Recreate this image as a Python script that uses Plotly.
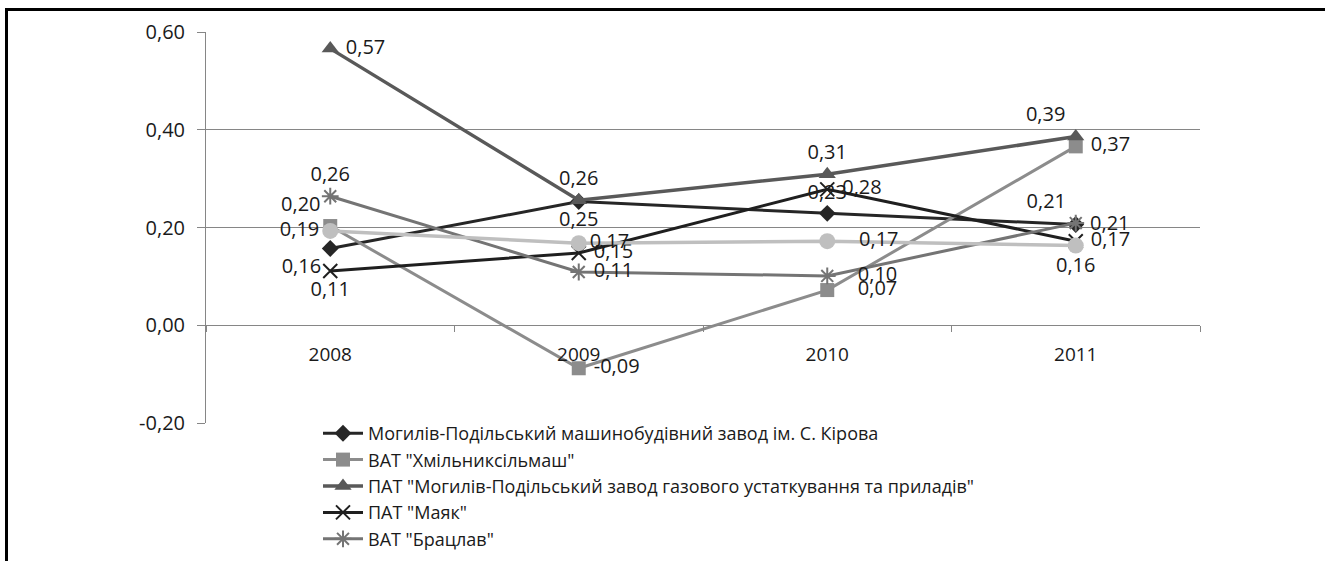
import plotly.graph_objects as go

years = ["2008", "2009", "2010", "2011"]

names = [
    "Могилів-Подільський машинобудівний завод ім. С. Кірова",
    "ВАТ \"Хмільниксільмаш\"",
    "ПАТ \"Могилів-Подільський завод газового устаткування та приладів\"",
    "ПАТ \"Маяк\"",
    "ВАТ \"Брацлав\"",
    "Серія 6",
]

kirova = [0.157, 0.253, 0.229, 0.206]
khmilnyk = [0.203, -0.088, 0.072, 0.366]
gaz = [0.566, 0.256, 0.309, 0.386]
mayak = [0.111, 0.148, 0.278, 0.172]
bratslav = [0.264, 0.109, 0.101, 0.209]
series6 = [0.193, 0.168, 0.172, 0.163]

y_ticks = [-0.2, 0.0, 0.2, 0.4, 0.6]
y_ticktext = [f"{v:.2f}".replace(".", ",") for v in y_ticks]

W, H = 1325, 561
L, R, T, B = 206, 125, 32, 138
PW, PH = W - L - R, H - T - B

styles = [
    dict(color="#262626", width=3, symbol="diamond", size=13, mline=0,
         pos=["bottom left", "bottom center", "top center", "middle right"],
         pad=[0, 0, 0, 1]),
    dict(color="#8c8c8c", width=3, symbol="square", size=14, mline=0,
         pos=["top left", "middle right", "middle right", "middle right"],
         pad=[0, 1, 4, 1]),
    dict(color="#595959", width=3.5, symbol="triangle-up", size=15, mline=0,
         pos=["middle right", "top center", "top center", "top left"],
         pad=[1, 0, 0, 0]),
    dict(color="#1f1f1f", width=3, symbol="x-thin-open", size=14, mline=2,
         pos=["bottom center", "middle right", "middle right", "middle right"],
         pad=[0, 1, 1, 1]),
    dict(color="#747474", width=3, symbol="asterisk-open", size=14, mline=2,
         pos=["top center", "middle right", "middle right", "top left"],
         pad=[0, 1, 4, 0]),
    dict(color="#bfbfbf", width=3.5, symbol="circle", size=16, mline=0,
         pos=["middle left", "middle right", "middle right", "bottom center"],
         pad=[0, 0, 4, 0]),
]

data = [kirova, khmilnyk, gaz, mayak, bratslav, series6]

fig = go.Figure()
for i, (nm, vals, st) in enumerate(zip(names, data, styles)):
    labels = [" " * p + f"{v:.2f}".replace(".", ",") for v, p in zip(vals, st["pad"])]
    fig.add_trace(go.Scatter(
        x=years, y=vals, name=nm,
        mode="lines+markers+text",
        line=dict(color=st["color"], width=st["width"]),
        marker=dict(symbol=st["symbol"], size=st["size"], color=st["color"],
                    line=dict(color=st["color"], width=st["mline"])),
        text=labels,
        textposition=st["pos"],
        textfont=dict(family="Open Sans", size=20, color="#1a1a1a"),
        cliponaxis=False,
        showlegend=(i < 5),
        legendgroup=f"g{i}",
    ))

def px(xp):
    return (xp - L) / PW

def py(yp):
    return (H - B - yp) / PH

fig.update_layout(
    width=W, height=H,
    margin=dict(l=L, r=R, t=T, b=B, autoexpand=False),
    paper_bgcolor="white", plot_bgcolor="white",
    font=dict(family="Open Sans", size=20, color="#1a1a1a"),
    xaxis=dict(
        type="category", range=[-0.5, 3.5],
        anchor="free", position=0.25,
        showline=True, linecolor="#868686", linewidth=1,
        showgrid=False, tickson="boundaries",
        ticks="outside", ticklen=6, tickcolor="#868686",
        ticklabelstandoff=12,
        tickfont=dict(family="Open Sans", size=19, color="#1a1a1a"),
    ),
    yaxis=dict(
        range=[-0.2, 0.6], tickvals=y_ticks, ticktext=y_ticktext,
        showline=True, linecolor="#868686", linewidth=1,
        showgrid=True, gridcolor="#868686", gridwidth=1,
        zeroline=False,
        ticks="outside", ticklen=8, tickcolor="#868686",
        ticklabelstandoff=8,
        tickfont=dict(family="Open Sans", size=20, color="#1a1a1a"),
    ),
    legend=dict(
        x=px(318), y=py(415), xanchor="left", yanchor="top",
        bgcolor="rgba(255,255,255,0)",
        font=dict(family="Open Sans", size=18, color="#1a1a1a"),
        tracegroupgap=0, itemwidth=40,
    ),
    shapes=[
        dict(type="line", xref="paper", yref="paper",
             x0=px(5), x1=px(1326), y0=py(9.5), y1=py(9.5),
             line=dict(color="black", width=3)),
        dict(type="line", xref="paper", yref="paper",
             x0=px(6.5), x1=px(6.5), y0=py(8), y1=py(562),
             line=dict(color="black", width=3)),
    ],
)

fig.write_html(
    "out.html",
    config={"displayModeBar": False},
    post_script="document.body.style.margin='0';document.body.style.overflow='hidden';",
)
